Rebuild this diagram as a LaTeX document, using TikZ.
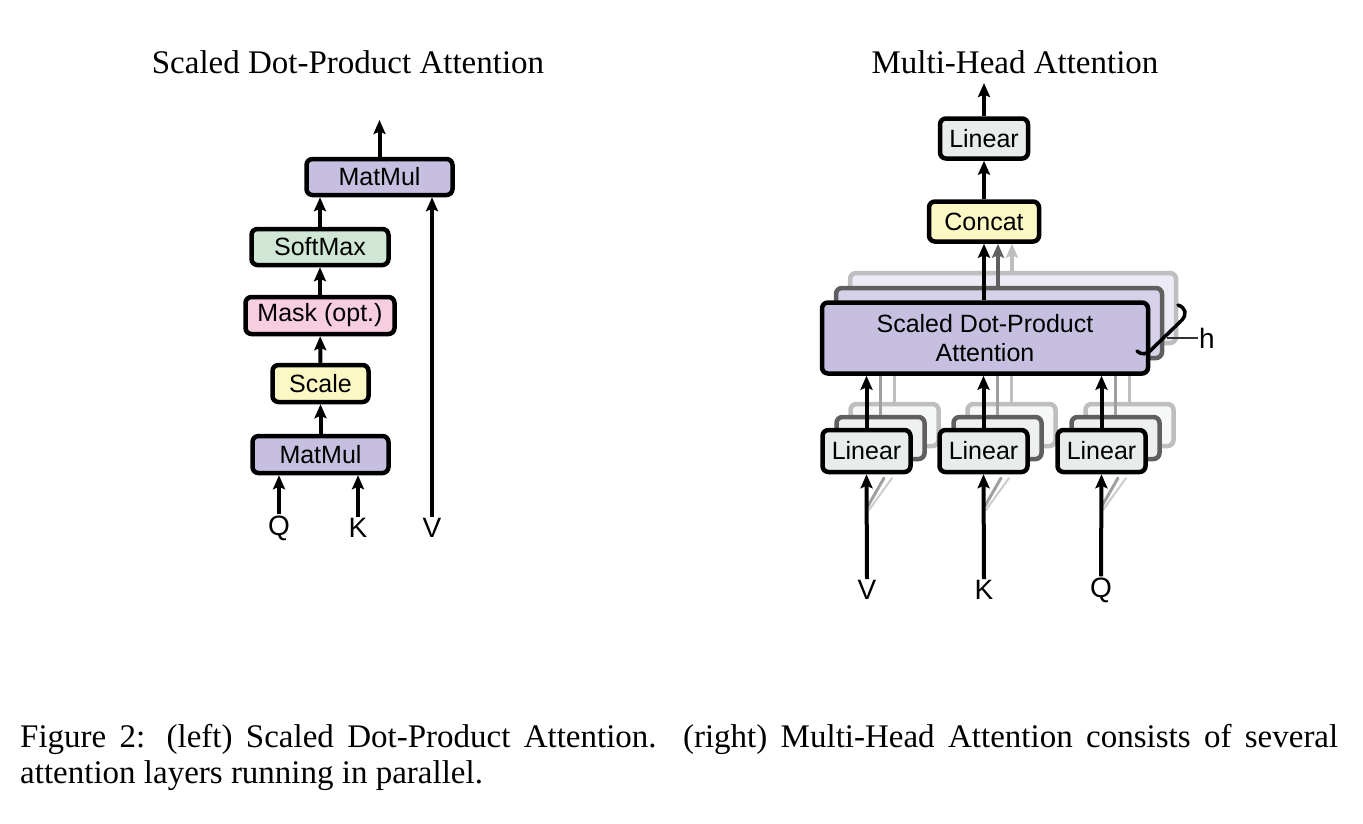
\documentclass[tikz,border=0pt]{standalone}
\usepackage{fontspec}
\setmainfont{Liberation Serif}
\newfontfamily\hv{Liberation Sans}
\usetikzlibrary{arrows.meta}
\definecolor{cpurple}{RGB}{198,191,223}
\definecolor{cgreen}{RGB}{207,231,212}
\definecolor{cpink}{RGB}{247,205,224}
\definecolor{cyellow}{RGB}{252,248,196}
\definecolor{cgray}{RGB}{232,236,235}
\definecolor{farpurple}{RGB}{236,234,244}
\definecolor{midpurple}{RGB}{214,209,232}
\definecolor{fargray}{RGB}{246,247,247}
\definecolor{midgray}{RGB}{238,240,240}
\definecolor{fardraw}{RGB}{190,190,190}
\definecolor{middraw}{RGB}{95,95,95}
\begin{document}
\begin{tikzpicture}[x=1pt,y=-1pt,
  box/.style={draw=black, line width=4.5pt, rounded corners=6pt, inner sep=0pt,
    align=center, font=\hv\fontsize{25}{29}\selectfont},
  farcopy/.style={box, draw=fardraw},
  midcopy/.style={box, draw=middraw},
  lbl/.style={inner sep=1pt, font=\hv\fontsize{28}{30}\selectfont},
  arr/.style={line width=4pt, -{Stealth[length=14pt,width=12pt,inset=2.5pt]}},
  title/.style={font=\fontsize{33}{36}\selectfont, inner sep=0pt}]
\useasboundingbox (0,0) rectangle (1363,823);

% ---------- left: scaled dot-product attention ----------
\node[title] (tl) at (348,62) {Scaled Dot-Product Attention};
\node[box, fill=cpurple, minimum width=146, minimum height=36] (mm2) at (379.5,177) {MatMul};
\node[box, fill=cgreen, minimum width=137, minimum height=36] (sm) at (320,247) {SoftMax};
\node[box, fill=cpink, minimum width=149, minimum height=37] (mask) at (320,315.5) {Mask (opt.)};
\node[box, fill=cyellow, minimum width=96, minimum height=37] (scale) at (320.5,383.5) {Scale};
\node[box, fill=cpurple, minimum width=136, minimum height=37] (mm1) at (320.5,454.5) {MatMul};
\node[lbl] (lq) at (279,528) {Q};
\node[lbl] (lk) at (358,528) {K};
\node[lbl] (lv) at (432,528) {V};
\coordinate (lout) at (379.5,120);
\draw[arr] (lq.north) -- (lq.north |- mm1.south);
\draw[arr] (lk.north) -- (lk.north |- mm1.south);
\draw[arr] (lv.north) -- (lv.north |- mm2.south);
\draw[arr] (mm1) -- (scale);
\draw[arr] (scale) -- (mask);
\draw[arr] (mask) -- (sm);
\draw[arr] (sm.north) -- (sm.north |- mm2.south);
\draw[arr] (mm2) -- (lout);

% ---------- right: multi-head attention ----------
\node[title] (tr) at (1015,62) {Multi-Head Attention};
% SDPA copies
\node[farcopy, fill=farpurple, minimum width=326, minimum height=70] (sdp3) at (1013,308) {};
\node[midcopy, fill=midpurple, minimum width=326, minimum height=70] (sdp2) at (999,323) {};
\node[box, fill=cyellow, minimum width=110, minimum height=40] (concat) at (984,221.5) {Concat};
\node[box, fill=cgray, minimum width=88, minimum height=40] (lintop) at (984,138.5) {Linear};
\draw[arr, fardraw] (sdp3.north -| 1012,0) -- (1012,0 |- concat.south);
\draw[arr, middraw] (sdp2.north -| 998,0) -- (998,0 |- concat.south);

% Linear copies
\foreach \n/\x in {a/866.5,b/983.5,c/1101.5}{
  \node[farcopy, fill=fargray, minimum width=88, minimum height=42] (\n3) at (\x+28,451-26) {};
  \node[midcopy, fill=midgray, minimum width=88, minimum height=42] (\n2) at (\x+14,451-13) {};
  \draw[line width=3pt, fardraw] (\n3.north) -- (\n3.north |- 0,370);
  \draw[line width=3pt, middraw!60] (\n2.north) -- (\n2.north |- 0,370);
}
\node[box, fill=cpurple, minimum width=326, minimum height=71] (sdp) at (985,338) {Scaled Dot-Product\\Attention};
\node[box, fill=cgray, minimum width=88, minimum height=42] (la) at (866.5,451) {Linear};
\node[box, fill=cgray, minimum width=88, minimum height=42] (lb) at (983.5,451) {Linear};
\node[box, fill=cgray, minimum width=88, minimum height=42] (lc) at (1101.5,451) {Linear};

\node[lbl] (rv) at (867,590) {V};
\node[lbl] (rk) at (984,590) {K};
\node[lbl] (rq) at (1101,590) {Q};
\coordinate (rout) at (984,83);

% input shadows
\foreach \x in {867,984,1101}{
  \draw[line width=3pt, gray!75, line cap=round] (\x+1,506) -- (\x+17,478);
  \draw[line width=2pt, gray!40, line cap=round] (\x+2,510) -- (\x+25,478);
}
\draw[arr] (rv.north) -- (la.south);
\draw[arr] (rk.north) -- (lb.south);
\draw[arr] (rq.north) -- (lc.south);
\draw[arr] (la.north) -- (la.north |- sdp.south);
\draw[arr] (lb.north) -- (lb.north |- sdp.south);
\draw[arr] (lc.north) -- (lc.north |- sdp.south);
\draw[arr] (sdp.north -| concat.south) -- (concat.south);
\draw[arr] (concat) -- (lintop);
\draw[arr] (lintop) -- (rout);

% h brace
\draw[line width=3.5pt, line cap=round] (1178,305) .. controls (1186,308) and (1187,314) .. (1182,320)
  -- (1152,349) .. controls (1147,355) and (1141,355) .. (1137,351);
\node[lbl] (hl) at (1207,338) {h};
\draw[line width=2.5pt, black!80] (1167,338) -- (hl.west);

% caption
\node[anchor=north west, inner sep=0pt, text width=1318, align=justify,
  font=\fontsize{33}{36}\selectfont] (cap) at (20,724)
  {Figure 2: (left) Scaled Dot-Product Attention. (right) Multi-Head Attention consists of several\linebreak attention layers running in parallel.};
\end{tikzpicture}
\end{document}
